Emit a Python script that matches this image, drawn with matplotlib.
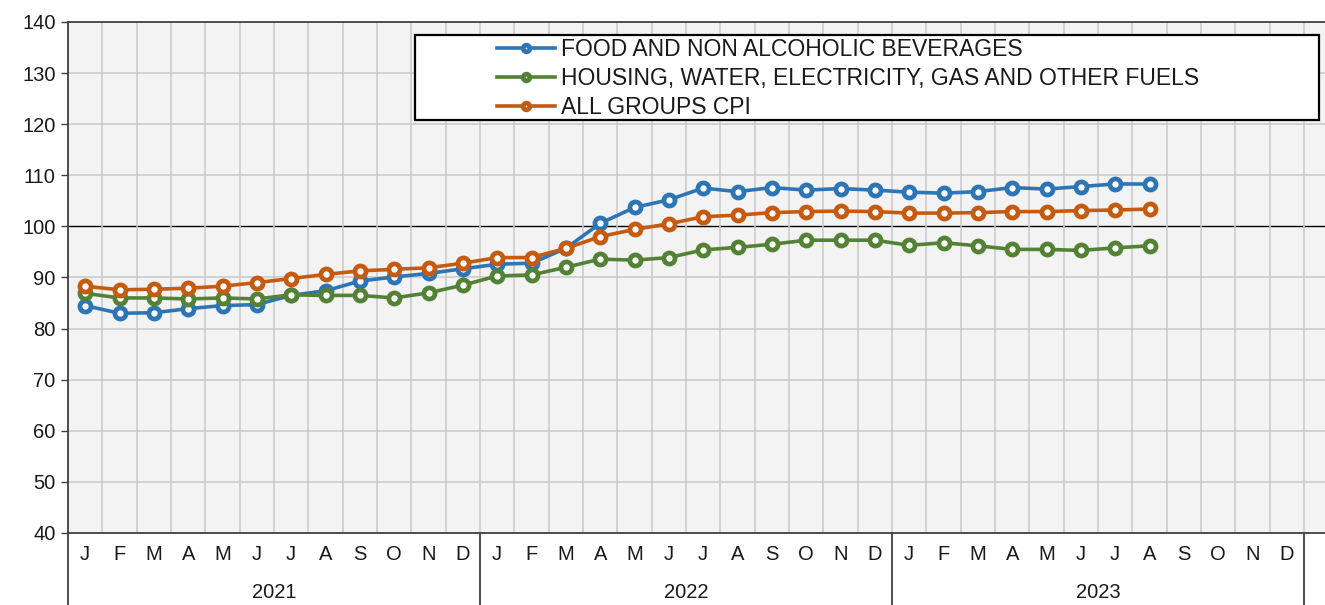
import matplotlib
matplotlib.use("Agg")
import matplotlib.pyplot as plt
from matplotlib.patches import Rectangle
import matplotlib.transforms as mtransforms

months = ["J", "F", "M", "A", "M", "J", "J", "A", "S", "O", "N", "D"]
years = ["2021", "2022", "2023"]

food = [84.5, 83.0, 83.1, 83.9, 84.5, 84.7, 86.5, 87.4, 89.3, 90.1, 90.8, 91.7,
        92.6, 92.8, 95.7, 100.6, 103.7, 105.2, 107.5, 106.8, 107.6, 107.1, 107.4, 107.1,
        106.7, 106.5, 106.8, 107.6, 107.3, 107.8, 108.3, 108.3]
housing = [86.9, 86.0, 86.0, 85.8, 86.0, 85.8, 86.6, 86.5, 86.5, 86.0, 87.0, 88.5,
           90.3, 90.5, 92.0, 93.6, 93.4, 93.9, 95.4, 95.9, 96.5, 97.3, 97.3, 97.3,
           96.3, 96.8, 96.2, 95.5, 95.5, 95.3, 95.8, 96.2]
cpi = [88.3, 87.6, 87.7, 87.9, 88.3, 89.0, 89.8, 90.6, 91.3, 91.6, 91.9, 92.8,
       93.9, 93.9, 95.7, 98.0, 99.4, 100.5, 101.9, 102.2, 102.7, 102.9, 103.0, 102.9,
       102.6, 102.6, 102.7, 102.9, 102.9, 103.1, 103.2, 103.4]

series_labels = ["FOOD AND NON ALCOHOLIC BEVERAGES",
                 "HOUSING, WATER, ELECTRICITY, GAS AND OTHER FUELS",
                 "ALL GROUPS CPI"]
colors = ["#2e75b6", "#548235", "#c55a11"]

plt.rcParams['font.family'] = ['Liberation Sans', 'DejaVu Sans']

W, H = 1325, 605
fig = plt.figure(figsize=(W / 100, H / 100), dpi=100)
ax_left, ax_right, ax_bottom, ax_top = 68, 1325, 533, 22
ax = fig.add_axes([ax_left / W, (H - ax_bottom) / H, (ax_right - ax_left) / W, (ax_bottom - ax_top) / H])
ax.set_facecolor("#f3f3f3")

n_slots = len(months) * len(years)
slot_px = 412 / 12
ax.set_xlim(0, (ax_right - ax_left) / slot_px)
ax.set_ylim(40, 140)

# grid
for v in range(50, 140, 10):
    ax.axhline(v, color="#000000" if v == 100 else "#c8c8c8", lw=1.0 if v == 100 else 1.1, zorder=1)
for i in range(1, n_slots + 2):
    ax.axvline(i, color="#c8c8c8", lw=1.1, zorder=1)

x = [i + 0.5 for i in range(len(food))]
for data, lab, c in zip([food, housing, cpi], series_labels, colors):
    ax.plot(x, data, color=c, lw=2.6, marker="o", ms=8.0, mew=3.4,
            mfc="white", mec=c, label=lab, zorder=3)

# y axis
ax.set_yticks(range(40, 141, 10))
ax.tick_params(axis="y", length=5, width=1, color="#404040", labelsize=14.5, pad=4, labelcolor="#1a1a1a")
ax.set_xticks([])
for s in ["left", "top", "bottom"]:
    ax.spines[s].set_color("#404040")
    ax.spines[s].set_linewidth(1.3)
ax.spines["right"].set_visible(False)

# x labels (two levels)
trans = mtransforms.blended_transform_factory(ax.transData, ax.transAxes)
axh = ax_bottom - ax_top
for yi, yr in enumerate(years):
    for mi, m in enumerate(months):
        ax.text(yi * 12 + mi + 0.5, -22 / axh, m, transform=trans, ha="center", va="center",
                fontsize=14.5, color="#1a1a1a")
    ax.text(yi * 12 + 6, -59 / axh, yr, transform=trans, ha="center", va="center",
            fontsize=14.5, color="#1a1a1a")
for b in [0, 12, 24, 36]:
    ax.plot([b, b], [0, -72 / axh], transform=trans, color="#404040", lw=1.3, clip_on=False)

# legend box
axw = ax_right - ax_left
ax.add_patch(Rectangle(((415 - ax_left) / axw, (ax_bottom - 120) / axh),
                       (1319 - 415) / axw, (120 - 35) / axh, transform=ax.transAxes,
                       facecolor="white", edgecolor="black", lw=1.6, zorder=4))
leg = ax.legend(loc="upper left", bbox_to_anchor=((497 - ax_left) / axw, (ax_bottom - 38) / axh),
                frameon=False, fontsize=16.5, handlelength=2.55, handletextpad=0.25,
                labelspacing=0.26, borderpad=0, borderaxespad=0, markerscale=0.6)
leg.set_zorder(5)
for t in leg.get_texts():
    t.set_color("#1a1a1a")

fig.savefig("out.png", dpi=100)
